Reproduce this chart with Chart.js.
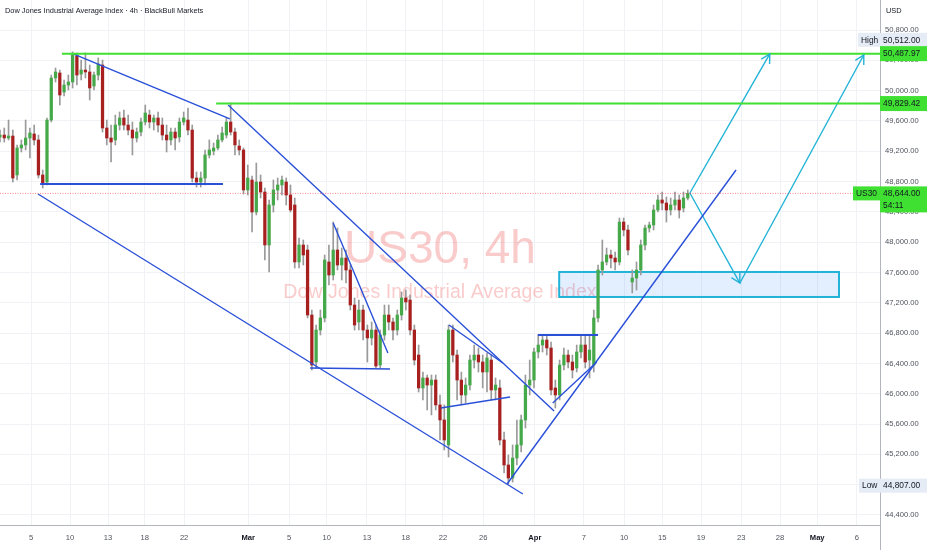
<!DOCTYPE html>
<html><head><meta charset="utf-8">
<script src="https://cdn.jsdelivr.net/npm/chart.js@4.4.1/dist/chart.umd.min.js"></script>
<style>html,body{margin:0;padding:0;background:#fff;overflow:hidden}#wrap{width:932px;height:550px}</style>
</head><body><div id="wrap"><canvas id="c" width="932" height="550"></canvas></div>
<script>
// ---- data (US30, 4h, one candle per ~1/3 trading day) ----
const opens = [49388,49414,49375,49401,48887,49243,49283,49375,49428,49349,
48887,48794,49612,50167,50233,49982,50074,50114,50457,50219,
50272,50246,50061,50206,50338,49507,49375,49349,49546,49639,
49546,49480,49375,49454,49586,49678,49586,49639,49546,49414,
49349,49454,49388,49586,49612,49480,48847,48794,48847,49151,
49203,49243,49349,49414,49586,49454,49269,49217,48689,48821,
48398,48794,48662,47963,48491,48689,48755,48794,48623,48491,
47739,47963,47897,47039,46419,46841,47000,47739,47567,47897,
47699,47791,47633,47171,46947,47105,46841,46736,46841,46379,
46775,47039,46947,46841,47039,47264,47237,46841,46511,46076,
46208,46115,46181,45852,45654,45324,46841,46511,46181,45984,
46115,46445,46511,46419,46287,46445,46050,46076,45390,45060,
44888,45152,45324,45654,46115,46181,46551,46643,46709,46604,
46076,45984,46379,46511,46419,46340,46551,46643,46445,46379,
47000,47633,47739,47831,47791,47739,48266,48161,47475,47527,
47633,47963,48187,48227,48425,48557,48517,48425,48491,48557,
48451,48583];
const closes = [49414,49375,49401,48847,49243,49283,49375,49441,49349,48887,
48768,49612,50167,50246,49942,50074,50114,50470,50206,50272,
50246,50035,50206,50351,49507,49375,49322,49546,49639,49546,
49480,49375,49454,49586,49705,49586,49639,49546,49414,49349,
49454,49375,49586,49639,49480,48847,48794,48847,49151,49217,
49243,49349,49441,49586,49454,49283,49217,48689,48847,48398,
48794,48662,47963,48491,48689,48755,48821,48623,48425,47739,
47963,47831,47039,46379,46841,47000,47765,47567,47897,47699,
47791,47633,47171,46907,47105,46841,46736,46841,46366,46775,
47039,46947,46841,47039,47264,47211,46841,46445,46076,46208,
46115,46181,45852,45654,45390,46841,46511,46181,45984,46115,
46445,46511,46419,46287,46472,46050,46115,45390,45060,44888,
45152,45324,45654,46115,46181,46551,46643,46709,46604,46050,
45984,46379,46511,46419,46313,46551,46643,46419,46577,47000,
47633,47739,47831,47791,47739,48266,48161,47897,47527,47633,
47963,48187,48227,48425,48557,48517,48425,48491,48557,48425,
48583,48644];
const highs = [49480,49507,49612,49480,49283,49349,49612,49507,49546,49414,
48953,49639,50206,50299,50272,50140,50206,50512,50497,50404,
50497,50338,50246,50431,50404,49612,49546,49678,49718,49744,
49678,49586,49507,49639,49810,49744,49678,49718,49639,49546,
49507,49507,49639,49718,49771,49546,48926,48926,49217,49349,
49309,49414,49520,49639,49837,49507,49349,49243,49019,48873,
49045,48887,48715,48557,48821,48847,48873,48847,48755,48583,
48055,48029,47963,47105,46907,47105,47831,47963,48266,48187,
47923,47897,47699,47264,47237,47171,46907,46947,46907,46841,
47171,47171,47000,47105,47343,47369,47303,46907,46643,46287,
46247,46247,46247,45984,45852,46907,46907,46577,46287,46208,
46511,46643,46604,46511,46538,46511,46208,46181,45495,45192,
45324,45654,45720,46247,46445,46604,46775,46775,46762,46683,
46181,46445,46604,46577,46511,46643,46775,46775,46775,47105,
47699,48029,47923,47897,47871,48319,48319,48227,47633,47739,
48029,48227,48266,48491,48623,48662,48596,48583,48662,48623,
48662,48689];
const lows = [49322,49322,49349,48794,48821,49190,49217,49111,49283,48847,
48715,48755,49586,50114,49810,49929,50008,50035,50074,50140,
50167,49876,50008,50140,49454,49283,49058,49283,49480,49480,
49414,49151,49322,49401,49546,49507,49480,49454,49349,49190,
49283,49217,49322,49546,49414,48794,48728,48728,48755,49111,
49151,49217,49322,49375,49414,49151,49151,48636,48623,48134,
48359,48583,47765,47607,48398,48557,48623,48491,48398,47659,
47659,47699,47000,46313,46340,46775,46947,47435,47501,47633,
47501,47461,47105,46841,46841,46709,46419,46643,46340,46340,
46709,46841,46709,46775,46973,47105,46775,46379,46023,45918,
45786,45720,45786,45390,45258,45165,46419,45918,45852,45878,
46050,46340,46287,46076,46023,45918,45918,45324,44954,44807,
44835,45060,45231,45548,45984,46076,46472,46551,46511,45984,
45812,45918,46313,46340,46208,46287,46472,46340,46208,46287,
46947,47567,47699,47659,47633,47699,48082,47831,47330,47369,
47567,47897,48134,48161,48398,48425,48266,48359,48425,48319,
48398,48557];

// x axis: tick labels and the bar index at which each sits
const xTickLabels = ['5','10','13','18','22','Mar','5','10','13','18','22','26','Apr','7','10','15','19','23','28','May','6'];
const xTickIndex  = [7.3,16.4,25.3,33.9,43.1,58.1,67.7,76.5,85.9,95.0,103.7,113.1,125.2,136.7,146.1,155.0,164.1,173.5,182.6,191.3,200.6];
const monthLabels = ['Mar','Apr','May'];
const yTickValues = [44400,44800,45200,45600,46000,46400,46800,47200,47600,48000,48400,48800,49200,49600,50000,50400,50800];

// key levels
const lastPrice = 48644.00, sessionHigh = 50512.00, sessionLow = 44807.00;
const levelPrices = [50487.97, 49829.42];
const levelStartIndex = [14.5, 50.6];
const countdown = '54:11';

// hand-drawn trend lines: [index1, price1, index2, price2]
const blueLines = [
  [17.3,50483, 53.8,49626],
  [9.4,48768, 52.2,48768],
  [8.9,48636, 122.4,44677],
  [53.4,49810, 129.7,45772],
  [78.0,48253, 90.8,46538],
  [72.6,46340, 91.3,46327],
  [105.1,46907, 117.7,46406],
  [103.2,45812, 119.4,45957],
  [125.9,46775, 140.0,46775],
  [129.4,45878, 139.7,46419],
  [118.7,44809, 172.3,48953]
];
const arrows = [
  [161.5,48649, 180.2,50484],
  [161.5,48649, 173.2,47461],
  [173.2,47461, 202.2,50470]
];
const zoneBox = [130.9, 47607, 196.4, 47277]; // index1, top price, index2, bottom price

// ---- chart ----
const FONT = '"Liberation Sans", Arial, sans-serif';
const GREEN = '#45a949', RED = '#a81f1f', WICK = '#9a9a9a';
const LEVEL = '#3fe031', BLUE = '#2a50d8', CYAN = '#22b3d6';
const fmt = v => Number(v).toLocaleString('en-US',{minimumFractionDigits:2,maximumFractionDigits:2});
const idx = closes.map((_, i) => i);

const datasets = [];
datasets.push({type:'bar', label:'wicks', order:3, grouped:false, barThickness:1,
  data: idx.map(i => ({x:i, y:[lows[i], highs[i]]})), backgroundColor: WICK});
datasets.push({type:'bar', label:'bodies', order:2, grouped:false, barThickness:2.6, minBarLength:1,
  data: idx.map(i => ({x:i, y:[opens[i], closes[i]]})),
  backgroundColor: idx.map(i => closes[i] >= opens[i] ? GREEN : RED)});
const lineDs = (pts, color, width, dash) => ({type:'line', order:1, data:pts, borderColor:color, borderWidth:width,
  borderDash: dash || [], pointRadius:0, fill:false, tension:0});
datasets.push(lineDs([{x:0,y:lastPrice},{x:206,y:lastPrice}], 'rgba(242,54,69,0.6)', 1, [1,1.5]));
levelPrices.forEach((p, k) => datasets.push(lineDs([{x:levelStartIndex[k],y:p},{x:206,y:p}], LEVEL, 2)));
blueLines.forEach(l => datasets.push(lineDs([{x:l[0],y:l[1]},{x:l[2],y:l[3]}], BLUE, (l[1]===l[3])?2:1.4)));
arrows.forEach(a => datasets.push(lineDs([{x:a[0],y:a[1]},{x:a[2],y:a[3]}], CYAN, 1.4)));

function tag(ctx, x, yTop, w, h, bg, lines, color) {
  ctx.fillStyle = bg; ctx.fillRect(x, yTop, w, h);
  ctx.fillStyle = color; ctx.textBaseline = 'middle'; ctx.textAlign = 'left';
  lines.forEach((t, k) => ctx.fillText(t, x + 3, yTop + 7.5 + k * 12));
}

const overlay = {
  id: 'overlay',
  beforeDatasetsDraw(chart) {
    const {ctx, chartArea: a, scales: {x, y}} = chart;
    ctx.save();
    // watermark
    ctx.fillStyle = 'rgba(238,70,70,0.28)';
    ctx.textAlign = 'center'; ctx.textBaseline = 'middle';
    ctx.font = '46px ' + FONT;
    ctx.fillText('US30, 4h', (a.left + a.right) / 2, 250);
    ctx.font = '19.6px ' + FONT;
    ctx.fillText('Dow Jones Industrial Average Index', (a.left + a.right) / 2, 293);
    // zone box
    const bx1 = x.getPixelForValue(zoneBox[0]), by1 = y.getPixelForValue(zoneBox[1]);
    const bx2 = x.getPixelForValue(zoneBox[2]), by2 = y.getPixelForValue(zoneBox[3]);
    ctx.fillStyle = 'rgba(41,121,255,0.13)';
    ctx.fillRect(bx1, by1, bx2 - bx1, by2 - by1);
    ctx.strokeStyle = CYAN; ctx.lineWidth = 2;
    ctx.strokeRect(bx1, by1, bx2 - bx1, by2 - by1);
    ctx.restore();
  },
  afterDatasetsDraw(chart) {
    const {ctx, scales: {x, y}} = chart;
    ctx.save();
    ctx.strokeStyle = CYAN; ctx.lineWidth = 1.4;
    arrows.forEach(a => {
      const x1 = x.getPixelForValue(a[0]), y1 = y.getPixelForValue(a[1]);
      const x2 = x.getPixelForValue(a[2]), y2 = y.getPixelForValue(a[3]);
      const ang = Math.atan2(y2 - y1, x2 - x1), L = 10;
      ctx.beginPath();
      ctx.moveTo(x2 - L * Math.cos(ang - 0.5), y2 - L * Math.sin(ang - 0.5));
      ctx.lineTo(x2, y2);
      ctx.lineTo(x2 - L * Math.cos(ang + 0.5), y2 - L * Math.sin(ang + 0.5));
      ctx.stroke();
    });
    ctx.restore();
  },
  afterDraw(chart) {
    const {ctx, chartArea: a, scales: {y}} = chart;
    ctx.save();
    ctx.fillStyle = '#131722'; ctx.textBaseline = 'middle'; ctx.textAlign = 'left';
    ctx.font = '7.4px ' + FONT;
    ctx.fillText('Dow Jones Industrial Average Index \u00b7 4h \u00b7 BlackBull Markets', 5, 11);
    ctx.fillText('USD', a.right + 6, 11);
    // extend right border line down
    ctx.strokeStyle = '#b2b5be'; ctx.lineWidth = 1;
    ctx.beginPath(); ctx.moveTo(a.right + 0.5, a.bottom); ctx.lineTo(a.right + 0.5, 550); ctx.stroke();
    ctx.font = '8.4px ' + FONT;
    const R = a.right;
    // High
    let yc = y.getPixelForValue(sessionHigh) - 12;
    tag(ctx, R - 22, yc - 7, 22, 14, '#e6ecf5', ['High'], '#131722');
    tag(ctx, R, yc - 7, 47, 14, '#e6ecf5', [fmt(sessionHigh)], '#131722');
    // levels
    levelPrices.forEach(p => {
      const yy = y.getPixelForValue(p);
      tag(ctx, R, yy - 7.5, 47, 15, LEVEL, [fmt(p)], '#131722');
    });
    // last price
    yc = y.getPixelForValue(lastPrice);
    tag(ctx, R - 27, yc - 7, 27, 14, LEVEL, ['US30'], '#131722');
    tag(ctx, R, yc - 7, 47, 26, LEVEL, [fmt(lastPrice), countdown], '#131722');
    // Low
    yc = y.getPixelForValue(sessionLow) + 1.5;
    tag(ctx, R - 21, yc - 7, 21, 14, '#e6ecf5', ['Low'], '#131722');
    tag(ctx, R, yc - 7, 47, 14, '#e6ecf5', [fmt(sessionLow)], '#131722');
    ctx.restore();
  }
};

new Chart(document.getElementById('c'), {
  type: 'bar',
  data: {datasets},
  options: {
    responsive: false, animation: false,
    layout: {padding: 0},
    plugins: {legend: {display: false}, tooltip: {enabled: false}, title: {display: false}},
    scales: {
      x: {type: 'linear', min: 0, max: 206, offset: false,
        afterBuildTicks: s => { s.ticks = xTickIndex.map(v => ({value: v})); },
        afterFit: s => { s.height = 25; s.paddingLeft = 0; s.paddingRight = 0; },
        grid: {color: '#f1f2f5', drawTicks: false, offset: false},
        border: {display: true, color: '#b2b5be'},
        ticks: {autoSkip: false, maxRotation: 0, padding: 8,
          callback: (v, i) => xTickLabels[i],
          color: c => monthLabels.includes(xTickLabels[c.index]) ? '#131722' : '#50535e',
          font: c => ({family: FONT, size: 7.6, weight: monthLabels.includes(xTickLabels[c.index]) ? 'bold' : 'normal'})}
      },
      y: {type: 'linear', position: 'right', min: 44268, max: 51196, beginAtZero: false,
        afterBuildTicks: s => { s.ticks = yTickValues.map(v => ({value: v})); },
        afterFit: s => { s.width = 52; s.paddingTop = 0; s.paddingBottom = 0; },
        grid: {color: '#f1f2f5', drawTicks: false},
        border: {display: true, color: '#b2b5be'},
        ticks: {padding: 5, color: '#50535e', font: {family: FONT, size: 7.6}, callback: v => fmt(v)}
      }
    }
  },
  plugins: [overlay]
});
</script></body></html>
